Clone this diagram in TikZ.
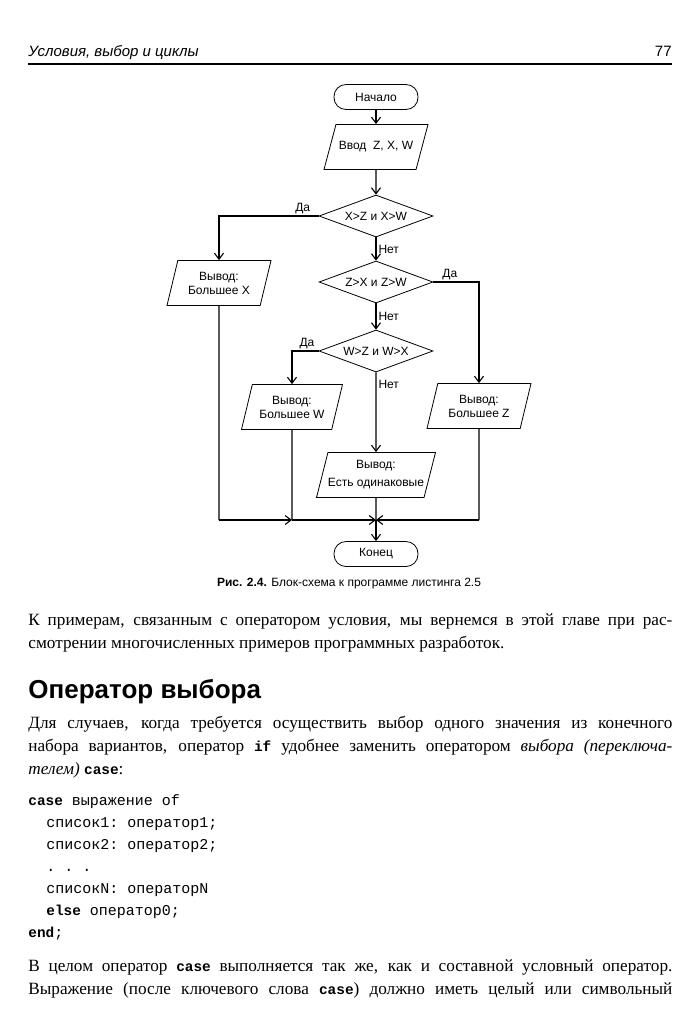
\documentclass[tikz,border=0pt]{standalone}
\usepackage{fontspec}
\setmainfont{Liberation Serif}
\setsansfont{Liberation Sans}
\setmonofont{Liberation Mono}
\usetikzlibrary{shapes.geometric,arrows.meta}
\newcommand{\kw}[1]{{\ttfamily\bfseries\fontsize{7.2}{8}\selectfont #1}}
\newcommand{\jline}[1]{\makebox[322pt][s]{#1}}

\begin{document}
\begin{tikzpicture}[x=0.5pt, y=-0.5pt,
	term/.style = {draw, rectangle, rounded corners=6pt, minimum width=42pt, minimum height=12.5pt, inner sep=0pt, font=\sffamily\fontsize{6}{7}\selectfont},
	io/.style = {draw, trapezium, trapezium left angle=75, trapezium right angle=105, trapezium stretches body, minimum width=52pt, minimum height=22.5pt, inner xsep=0pt, inner ysep=4.5pt, align=center, font=\sffamily\fontsize{6}{7}\selectfont},
	cond/.style = {draw, diamond, aspect=2.7, minimum width=57pt, minimum height=21pt, inner sep=0pt, font=\sffamily\fontsize{6}{7}\selectfont},
	lbl/.style = {inner sep=1pt, font=\sffamily\fontsize{6}{7}\selectfont},
	line/.style = {line width=0.55pt},
	arr/.style = {line width=0.55pt, -{Straight Barb[length=3pt,width=4.5pt]}},
	txt/.style = {anchor=base west, inner sep=0pt, font=\fontsize{8.6}{10}\selectfont},
	code/.style = {anchor=base west, inner sep=0pt, font=\ttfamily\fontsize{7.5}{9}\selectfont}]
	\useasboundingbox[fill=white] (0,0) rectangle (700,1024);
	% Kolontitul
	\node[anchor=base west, inner sep=0pt, font=\sffamily\itshape\fontsize{7.5}{9}\selectfont] (hdr) at (28,56) {Условия, выбор и циклы};
	\node[anchor=base east, inner sep=0pt, font=\sffamily\fontsize{7.5}{9}\selectfont] (pg) at (672,56) {77};
	\coordinate (rl) at (28,64);
	\coordinate (rr) at (672,64);
	\draw[line width=0.8pt] (rl) -- (rr);
	% Bloki
	\node[term] (start) at (376,97) {Начало};
	\node[io, inner ysep=8.5pt] (input) at (376,147) {Ввод\ \ Z, X, W};
	\node[cond] (d1) at (376,216) {X>Z и X>W};
	\node[cond] (d2) at (376,282) {Z>X и Z>W};
	\node[cond] (d3) at (376,351) {W>Z и W>X};
	\node[io, minimum width=52pt] (outX) at (219,283) {Вывод:\\Большее X};
	\node[io, minimum width=50.5pt] (outW) at (292,407) {Вывод:\\Большее W};
	\node[io, minimum width=52pt] (outZ) at (479,406) {Вывод:\\Большее Z};
	\node[io, minimum width=59pt, inner ysep=3.5pt, font=\sffamily\fontsize{6}{9}\selectfont] (outEq) at (376,475) {Вывод:\\Есть одинаковые};
	\node[term] (end) at (376,554) {Конец};
	\coordinate (jl) at (219,520);
	\coordinate (jw) at (292,520);
	\coordinate (jc) at (376,520);
	\coordinate (jr) at (479,520);
	% Strelki
	\draw[arr] (start) -- (input);
	\draw[arr] (input) -- (d1);
	\draw[arr] (d1.west) -| node[lbl, pos=0.08, above] {Да} (outX.north);
	\draw[arr] (d1.south) -- node[lbl, midway, right] {Нет} (d2.north);
	\draw[arr] (d2.east) -| node[lbl, pos=0.18, above] {Да} (outZ.north);
	\draw[arr] (d2.south) -- node[lbl, midway, right] {Нет} (d3.north);
	\draw[arr] (d3.west) -| node[lbl, pos=0.22, above] {Да} (outW.north);
	\draw[arr] (d3.south) -- node[lbl, pos=0.15, right] {Нет} (outEq.north);
	\draw[line] (outX.south) -- (jl);
	\draw[arr] (jl) -- (jw);
	\draw[line] (outW.south) -- (jw);
	\draw[arr] (jw) -- (jc);
	\draw[line] (outZ.south) -- (jr);
	\draw[arr] (jr) -- (jc);
	\draw[line] (outEq.south) -- (jc);
	\draw[arr] (jc) -- (end);
	% Podpis
	\node[anchor=base, inner sep=0pt, font=\sffamily\fontsize{6}{7}\selectfont] (cap) at (349,586) {\textbf{Рис. 2.4.} Блок-схема к программе листинга 2.5};
	% Tekst
	\node[txt] (p1a) at (28,625) {\jline{К примерам, связанным с оператором условия, мы вернемся в этой главе при рас-}};
	\node[txt] (p1b) at (28,648) {смотрении многочисленных примеров программных разработок.};
	\node[anchor=base west, inner sep=0pt, font=\sffamily\bfseries\fontsize{13}{15}\selectfont] (h1) at (28,698) {Оператор выбора};
	\node[txt] (p2a) at (28,728) {\jline{Для случаев, когда требуется осуществить выбор одного значения из конечного}};
	\node[txt] (p2b) at (28,751) {\jline{набора вариантов, оператор \kw{if} удобнее заменить оператором \textit{выбора (переключа-}}};
	\node[txt] (p2c) at (28,774) {\textit{телем)} \kw{case}:};
	% Kod
	\node[code] (c1) at (28,805) {\kw{case} выражение of};
	\node[code] (c2) at (46,827) {список1: оператор1;};
	\node[code] (c3) at (46,849) {список2: оператор2;};
	\node[code] (c4) at (46,871) {. . .};
	\node[code] (c5) at (46,893) {списокN: операторN};
	\node[code] (c6) at (46,915) {\kw{else} оператор0;};
	\node[code] (c7) at (28,937) {\kw{end};};
	\node[txt] (p3a) at (28,971) {\jline{В целом оператор \kw{case} выполняется так же, как и составной условный оператор.}};
	\node[txt] (p3b) at (28,994) {\jline{Выражение (после ключевого слова \kw{case}) должно иметь целый или символьный}};
\end{tikzpicture}
\end{document}
